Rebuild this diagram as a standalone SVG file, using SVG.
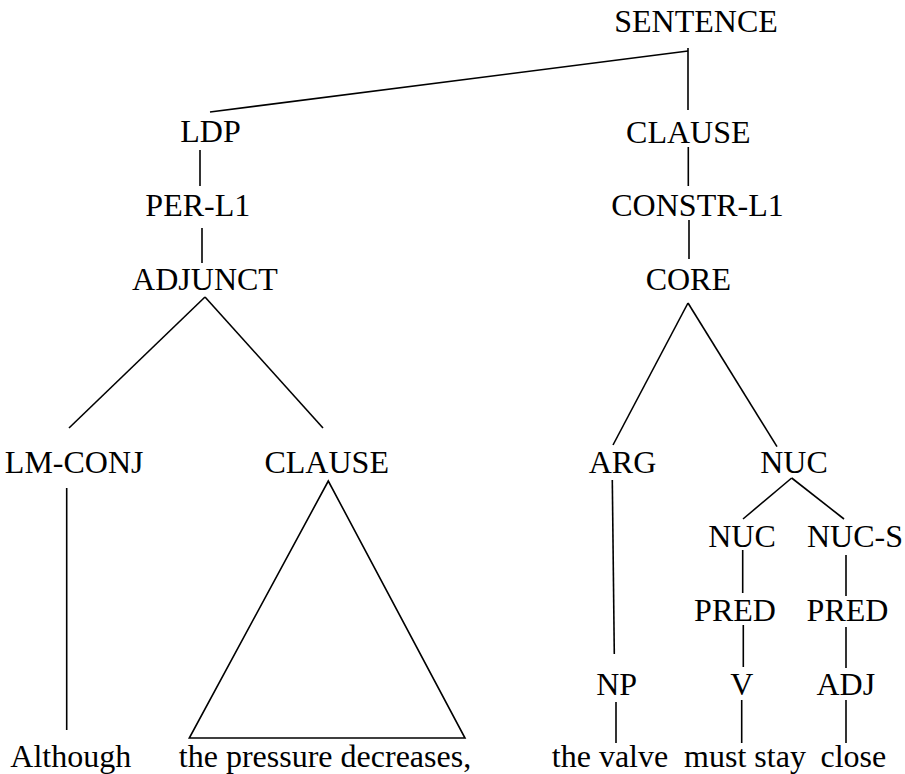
<svg xmlns="http://www.w3.org/2000/svg" width="905" height="774" viewBox="0 0 905 774">
<style>
.t text{font-family:'Liberation Serif','Tinos','Times New Roman','DejaVu Serif',serif;font-size:32px;fill:#000;text-anchor:middle}
.e line,.e polygon{stroke:#000;stroke-width:1.6;fill:none}
</style>
<rect width="905" height="774" fill="#fff"/>
<g class="e" id="connectors">
<line x1="688" y1="48" x2="688" y2="110"/>
<line x1="688" y1="51" x2="210" y2="112"/>
<line x1="200" y1="150" x2="200" y2="186"/>
<line x1="202" y1="228" x2="202" y2="263"/>
<line x1="688.3" y1="147" x2="688.3" y2="186"/>
<line x1="689" y1="220" x2="689" y2="259"/>
<line x1="69" y1="428" x2="205" y2="297"/>
<line x1="205" y1="297" x2="323" y2="428"/>
<line x1="66.7" y1="488" x2="66.7" y2="730"/>
<polygon points="328.3,481 189.3,738 465,738"/>
<line x1="613" y1="445" x2="688" y2="303"/>
<line x1="688" y1="303" x2="777" y2="446.7"/>
<line x1="612.3" y1="480" x2="614.3" y2="654"/>
<line x1="743" y1="519" x2="791.7" y2="478"/>
<line x1="791.7" y1="478" x2="844" y2="519"/>
<line x1="742.7" y1="550" x2="742.7" y2="593"/>
<line x1="846" y1="555" x2="846" y2="596"/>
<line x1="743.3" y1="625" x2="743.3" y2="667"/>
<line x1="846" y1="627" x2="846" y2="668"/>
<line x1="616" y1="702" x2="616" y2="743"/>
<line x1="741.7" y1="700" x2="741.7" y2="743"/>
<line x1="846" y1="700" x2="846" y2="743"/>
</g>
<g class="t" font-family="Liberation Serif, serif">
<g id="n-sentence"><text x="696" y="32">SENTENCE</text></g>
<g id="n-ldp"><text x="210.5" y="142">LDP</text></g>
<g id="n-clause1"><text x="688.3" y="142.5">CLAUSE</text></g>
<g id="n-perl1"><text x="197.8" y="216">PER-L1</text></g>
<g id="n-constrl1"><text x="697.5" y="216">CONSTR-L1</text></g>
<g id="n-adjunct"><text x="205" y="290">ADJUNCT</text></g>
<g id="n-core"><text x="688.3" y="289.5">CORE</text></g>
<g id="n-lmconj"><text x="74.2" y="473.3">LM-CONJ</text></g>
<g id="n-clause2"><text x="326.7" y="473.3">CLAUSE</text></g>
<g id="n-arg"><text x="622.5" y="473.3">ARG</text></g>
<g id="n-nuc1"><text x="794" y="473.3">NUC</text></g>
<g id="n-nuc2"><text x="742" y="546.7">NUC</text></g>
<g id="n-nucs"><text x="855" y="546.7">NUC-S</text></g>
<g id="n-pred1"><text x="735" y="621">PRED</text></g>
<g id="n-pred2"><text x="847.5" y="621">PRED</text></g>
<g id="n-np"><text x="616.7" y="695">NP</text></g>
<g id="n-v"><text x="741.7" y="695">V</text></g>
<g id="n-adj"><text x="845.8" y="695">ADJ</text></g>
<g id="w-although"><text x="70.8" y="767">Although</text></g>
<g id="w-pressure"><text x="325" y="767">the pressure decreases,</text></g>
<g id="w-valve"><text x="610" y="767">the valve</text></g>
<g id="w-muststay"><text x="745" y="767">must stay</text></g>
<g id="w-close"><text x="853.3" y="767">close</text></g>
</g>
</svg>
